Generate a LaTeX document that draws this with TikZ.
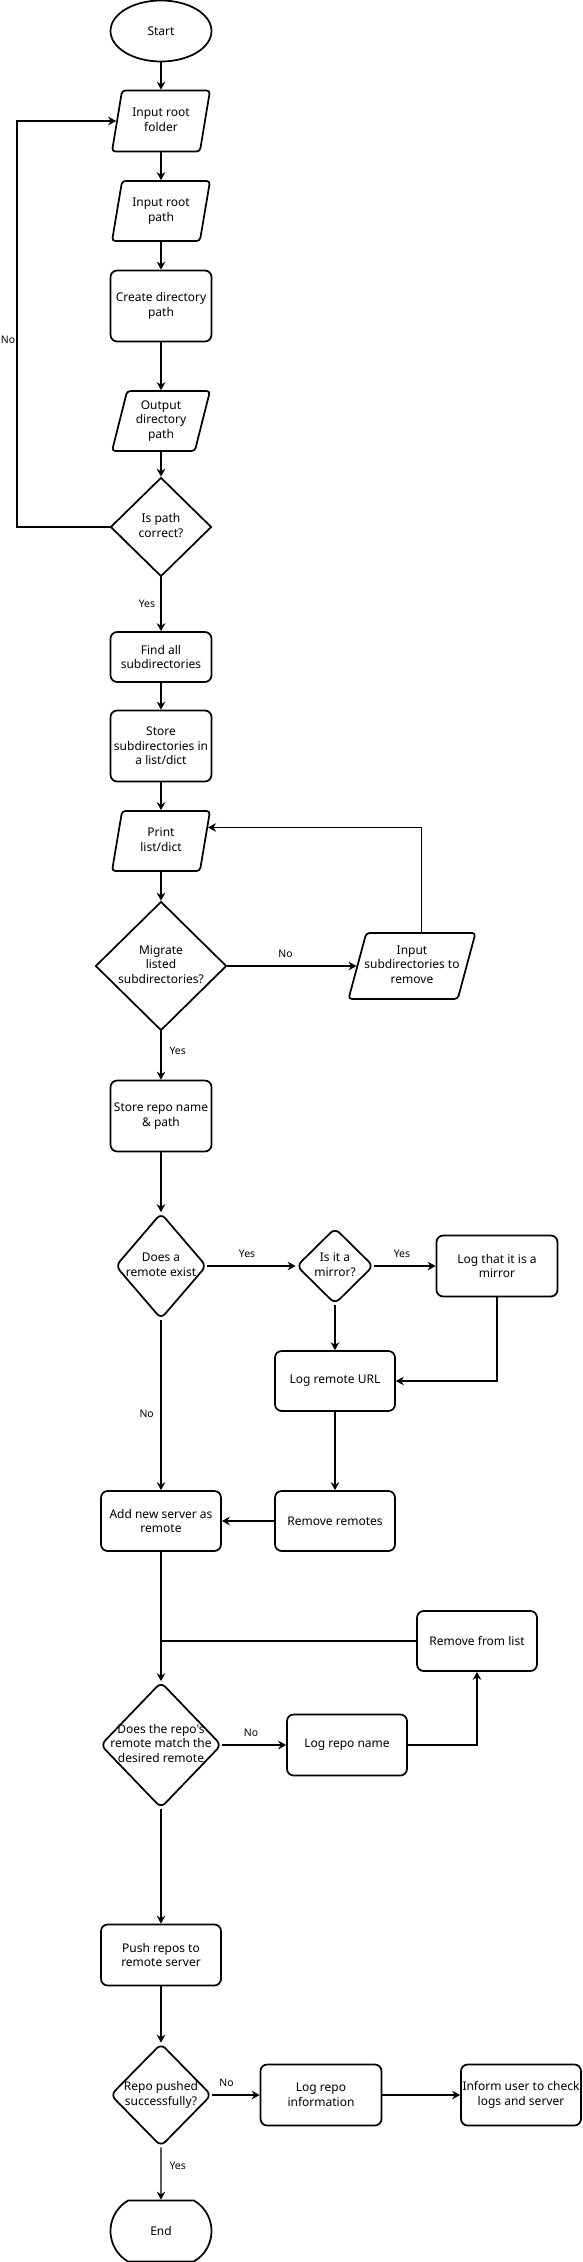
\documentclass[tikz,border=0pt]{standalone}
\usepackage{fontspec}
\setmainfont{Noto Sans}[Ligatures=TeXOff]
\usetikzlibrary{shapes.geometric, shapes.misc, arrows.meta, calc}
\newcommand{\fitbox}[1]{\makebox[0pt]{\begin{tabular}{@{}c@{}}#1\end{tabular}}}
\tikzset{
    base-box/.style = {draw=black, line width=1.3pt, inner sep=0pt, align=center, font=\fontsize{9}{11}\selectfont},
    box-size/.style 2 args = {minimum width=#1*0.75pt, minimum height=#2*0.75pt},
    start-oval/.style = {base-box, ellipse, box-size={101}{61}},
    end-box/.style = {base-box, rounded rectangle, rounded rectangle arc length=120, box-size={101}{61}},
    io-box/.style = {base-box, trapezium, trapezium left angle=71, trapezium right angle=109, trapezium stretches body=true, rounded corners=2.5pt},
    process-box/.style = {base-box, rectangle, rounded corners=5pt},
    decision/.style = {base-box, diamond},
    decision-round/.style = {base-box, diamond, rounded corners=4.5pt},
    flow/.style = {line width=0.9pt, -{Stealth[length=6pt, width=6.5pt, inset=2pt]}},
    flow-line/.style = {line width=0.9pt},
    edge-label/.style = {inner sep=1pt, font=\fontsize{7.8}{9}\selectfont},
}

\begin{document}
\begin{tikzpicture}[x=0.75pt, y=-0.75pt]
\useasboundingbox (0,0) rectangle (582,2262);

% main column
\node [start-oval] (start) at (161,31) {Start};
\node [io-box, box-size={98}{61}] (in-folder) at (161,121) {\fitbox{Input root\\folder}};
\node [io-box, box-size={98}{60}] (in-path) at (161,211) {\fitbox{Input root\\path}};
\node [process-box, box-size={101}{71}] (mk-path) at (161,306) {Create directory\\path};
\node [io-box, box-size={98}{60}] (out-path) at (161,421) {\fitbox{Output\\directory\\path}};
\node [decision, box-size={101}{99}] (is-path) at (161,527) {\fitbox{Is path\\correct?}};
\node [process-box, box-size={101}{50}] (find-sub) at (161,657) {Find all\\subdirectories};
\node [process-box, box-size={101}{71}] (store-sub) at (161,746) {Store\\subdirectories in\\a list/dict};
\node [io-box, box-size={98}{60}] (print-list) at (161,841) {\fitbox{Print\\list/dict}};
\node [decision, box-size={131}{129}] (migrate) at (161,966) {\fitbox{Migrate\\listed\\subdirectories?}};
\node [io-box, trapezium left angle=68, trapezium right angle=112, box-size={127}{66}] (in-remove) at (412,966) {\fitbox{Input\\subdirectories to\\remove}};
\node [process-box, box-size={101}{71}] (store-repo) at (161,1116) {Store repo name\\\& path};

% remotes
\node [decision-round, box-size={91}{106}] (has-remote) at (161,1266) {\fitbox{Does a\\remote exist}};
\node [decision-round, box-size={77}{76}] (is-mirror) at (335,1266) {\fitbox{Is it a\\mirror?}};
\node [process-box, box-size={121}{61}] (log-mirror) at (497,1266) {Log that it is a\\mirror};
\node [process-box, box-size={120}{60}] (log-url) at (335,1381) {Log remote URL};
\node [process-box, box-size={120}{60}] (add-server) at (161,1521) {Add new server as\\remote};
\node [process-box, box-size={120}{60}] (rm-remotes) at (335,1521) {Remove remotes};
\node [process-box, box-size={120}{60}] (rm-list) at (477,1641) {Remove from list};
\node [decision-round, box-size={121}{126}] (match) at (161,1745) {\fitbox{Does the repo's\\remote match the\\desired remote}};
\node [process-box, box-size={120}{61}] (log-name) at (347,1745) {Log repo name};

% push
\node [process-box, box-size={120}{61}] (push) at (161,1955) {Push repos to\\remote server};
\node [decision-round, box-size={101}{103}] (pushed-ok) at (161,2095) {\fitbox{Repo pushed\\successfully?}};
\node [process-box, box-size={121}{61}] (log-info) at (321,2095) {Log repo\\information};
\node [process-box, box-size={120}{61}] (inform) at (521,2095) {\fitbox{Inform user to check\\logs and server}};
\node [end-box] (end) at (161,2231) {End};

\coordinate (loop-corner) at (17,527);
\coordinate (print-in) at ($(print-list.top right corner)!0.28!(print-list.bottom right corner)$);
\coordinate (join-list) at (add-server.south |- rm-list.west);

\draw [flow] (start) -- (in-folder);
\draw [flow] (in-folder) -- (in-path);
\draw [flow] (in-path) -- (mk-path);
\draw [flow] (mk-path) -- (out-path);
\draw [flow] (out-path) -- (is-path);
\draw [flow] (is-path.west) -- (loop-corner) |- (in-folder.left side);
\node [edge-label] (no-path) at (8,340) {No};
\draw [flow] (is-path) -- node [edge-label, left=3pt] (yes-path) {Yes} (find-sub);
\draw [flow] (find-sub) -- (store-sub);
\draw [flow] (store-sub) -- (print-list);
\draw [flow] (print-list) -- (migrate);
\draw [flow] (migrate.east) -- node [edge-label, above=5pt, pos=0.45] (no-migrate) {No} (in-remove.left side);
\draw [flow] (in-remove.top side) |- (print-in);
\draw [flow] (migrate) -- node [edge-label, right=5pt, pos=0.4] (yes-migrate) {Yes} (store-repo);
\draw [flow] (store-repo) -- (has-remote);

\draw [flow] (has-remote.east) -- node [edge-label, above=5pt, pos=0.45] (yes-remote) {Yes} (is-mirror.west);
\draw [flow] (is-mirror.east) -- node [edge-label, above=5pt, pos=0.45] (yes-mirror) {Yes} (log-mirror.west);
\draw [flow] (is-mirror) -- (log-url);
\draw [flow] (log-mirror.south) |- (log-url.east);
\draw [flow] (log-url) -- (rm-remotes);
\draw [flow] (rm-remotes) -- (add-server);
\draw [flow] (has-remote) -- node [edge-label, left=4pt, pos=0.55] (no-remote) {No} (add-server);
\draw [flow] (add-server) -- (match);
\draw [flow-line] (rm-list.west) -- (join-list);
\draw [flow] (match.east) -- node [edge-label, above=5pt, pos=0.45] (no-match) {No} (log-name.west);
\draw [flow] (log-name.east) -| (rm-list.south);
\draw [flow] (match) -- (push);

\draw [flow] (push) -- (pushed-ok);
\draw [flow] (pushed-ok.east) -- node [edge-label, above=5pt, pos=0.3] (no-push) {No} (log-info.west);
\draw [flow] (log-info) -- (inform);
\draw [flow] (pushed-ok) -- node [edge-label, right=5pt, pos=0.35] (yes-push) {Yes} (end);
\end{tikzpicture}
\end{document}
